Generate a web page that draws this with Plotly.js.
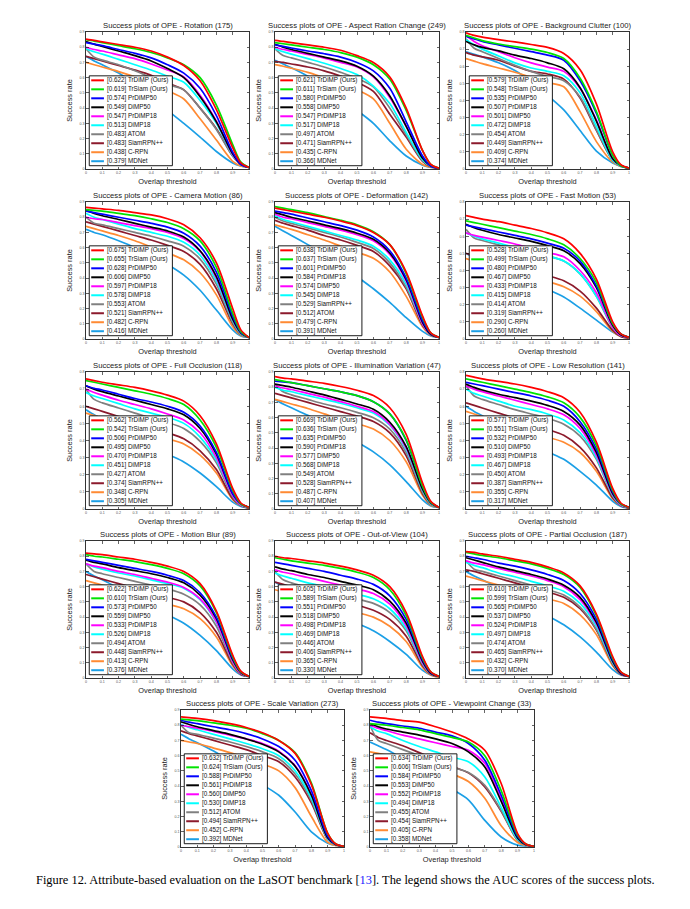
<!DOCTYPE html>
<html>
<head>
<meta charset="utf-8">
<script src="https://cdn.plot.ly/plotly-3.0.1.min.js"></script>
<style>
  html, body { margin: 0; padding: 0; background: #fff; }
  #chart { width: 690px; height: 909px; }
</style>
</head>
<body>
<div id="chart"></div>
<script>
var thr = [0, 0.05, 0.1, 0.2, 0.3, 0.4, 0.5, 0.6, 0.7, 0.8, 0.9, 0.95, 1];

// legend names, in ranked order (colour follows the rank)
var ordA = ['TrDiMP (Ours)', 'TrSiam (Ours)', 'PrDiMP50', 'DiMP50', 'PrDiMP18', 'DiMP18', 'ATOM', 'SiamRPN++', 'C-RPN', 'MDNet'];
var ordB = ['TrDiMP (Ours)', 'TrSiam (Ours)', 'PrDiMP50', 'PrDiMP18', 'DiMP50', 'DiMP18', 'ATOM', 'SiamRPN++', 'C-RPN', 'MDNet'];
var ordDef = ['TrDiMP (Ours)', 'TrSiam (Ours)', 'PrDiMP50', 'PrDiMP18', 'DiMP50', 'DiMP18', 'SiamRPN++', 'ATOM', 'C-RPN', 'MDNet'];

// Rotation (175)
var rotAuc = [0.622, 0.619, 0.574, 0.549, 0.547, 0.513, 0.483, 0.483, 0.438, 0.379];
var rotY = [
  [.853,.845,.835,.818,.80,.775,.735,.68,.58,.39,.14,.04,.01],
  [.849,.84,.83,.81,.79,.765,.73,.685,.60,.42,.16,.045,.01],
  [.83,.82,.81,.785,.76,.73,.685,.63,.53,.35,.11,.03,.01],
  [.838,.82,.805,.775,.745,.71,.66,.60,.475,.31,.10,.03,.01],
  [.80,.785,.775,.75,.725,.69,.65,.605,.485,.315,.095,.03,.01],
  [.79,.77,.755,.72,.685,.65,.61,.57,.45,.30,.09,.03,.01],
  [.79,.735,.715,.685,.645,.60,.555,.52,.40,.26,.085,.03,.01],
  [.74,.725,.71,.68,.65,.615,.565,.52,.40,.265,.085,.03,.01],
  [.70,.685,.67,.64,.605,.565,.515,.46,.33,.19,.05,.02,.01],
  [.74,.71,.685,.63,.56,.475,.385,.30,.21,.115,.04,.02,.01]
];

// Aspect Ration Change (249)
var aspAuc = [0.621, 0.611, 0.580, 0.558, 0.547, 0.517, 0.497, 0.471, 0.435, 0.366];
var aspY = [
  [.845,.838,.83,.815,.80,.78,.745,.70,.605,.40,.12,.03,.005],
  [.83,.823,.815,.80,.785,.765,.735,.685,.59,.385,.12,.03,.005],
  [.815,.805,.795,.775,.757,.735,.70,.645,.53,.31,.085,.02,.005],
  [.82,.80,.785,.76,.735,.71,.675,.61,.48,.28,.07,.02,.005],
  [.80,.785,.775,.752,.728,.70,.67,.605,.47,.28,.075,.02,.005],
  [.79,.77,.755,.725,.695,.66,.62,.545,.43,.24,.06,.018,.005],
  [.79,.745,.73,.70,.67,.635,.595,.54,.40,.225,.055,.018,.005],
  [.708,.70,.69,.67,.645,.61,.57,.51,.36,.21,.05,.015,.005],
  [.686,.675,.662,.635,.60,.565,.52,.46,.30,.13,.03,.012,.005],
  [.715,.69,.665,.61,.545,.465,.385,.30,.185,.085,.025,.01,.005]
];

// Background Clutter (100)
var bgcAuc = [0.579, 0.548, 0.535, 0.507, 0.501, 0.472, 0.454, 0.449, 0.409, 0.374];
var bgcY = [
  [.795,.78,.77,.755,.742,.727,.71,.675,.58,.38,.10,.025,.005],
  [.78,.765,.75,.73,.715,.70,.68,.645,.53,.335,.08,.02,.005],
  [.775,.76,.745,.725,.705,.685,.665,.635,.515,.325,.08,.02,.005],
  [.745,.725,.71,.69,.665,.645,.62,.585,.475,.28,.06,.02,.005],
  [.78,.745,.72,.685,.65,.62,.595,.57,.47,.285,.06,.02,.005],
  [.755,.725,.70,.66,.62,.59,.57,.545,.445,.25,.05,.018,.005],
  [.76,.705,.685,.645,.605,.57,.54,.515,.42,.23,.05,.018,.005],
  [.68,.665,.655,.635,.60,.57,.555,.525,.415,.225,.05,.018,.005],
  [.645,.63,.615,.59,.565,.535,.505,.48,.335,.16,.04,.015,.005],
  [.685,.67,.655,.62,.575,.51,.43,.345,.225,.105,.035,.015,.005]
];

// Camera Motion (86)
var camAuc = [0.675, 0.655, 0.628, 0.606, 0.597, 0.578, 0.553, 0.521, 0.482, 0.416];
var camY = [
  [.865,.86,.855,.845,.83,.815,.79,.75,.665,.50,.20,.06,.01],
  [.85,.845,.84,.825,.81,.79,.765,.725,.645,.47,.17,.05,.01],
  [.84,.83,.82,.80,.78,.76,.735,.695,.61,.44,.15,.045,.01],
  [.845,.825,.81,.785,.76,.735,.71,.67,.58,.41,.13,.04,.01],
  [.80,.79,.785,.765,.745,.725,.70,.66,.575,.40,.13,.04,.01],
  [.825,.80,.785,.755,.725,.70,.675,.635,.55,.38,.12,.035,.01],
  [.80,.76,.75,.725,.70,.675,.645,.61,.525,.36,.11,.03,.01],
  [.77,.755,.74,.71,.68,.65,.615,.575,.49,.33,.10,.03,.01],
  [.74,.725,.71,.68,.645,.605,.565,.52,.435,.29,.08,.025,.01],
  [.72,.70,.685,.645,.60,.545,.49,.42,.32,.19,.06,.02,.01]
];

// Deformation (142)
var defAuc = [0.638, 0.637, 0.601, 0.584, 0.574, 0.545, 0.529, 0.512, 0.479, 0.391];
var defY = [
  [.86,.85,.84,.82,.80,.775,.745,.70,.62,.44,.15,.04,.01],
  [.87,.86,.85,.83,.805,.78,.75,.705,.62,.43,.14,.04,.01],
  [.84,.83,.82,.795,.77,.745,.715,.67,.58,.40,.12,.035,.01],
  [.83,.815,.80,.775,.75,.725,.695,.655,.565,.39,.11,.03,.01],
  [.82,.80,.79,.765,.74,.715,.685,.645,.555,.38,.10,.03,.01],
  [.81,.785,.77,.74,.71,.68,.65,.61,.52,.36,.10,.03,.01],
  [.80,.775,.76,.73,.70,.67,.635,.595,.50,.34,.10,.03,.01],
  [.78,.76,.745,.715,.68,.65,.615,.575,.48,.33,.09,.03,.01],
  [.75,.735,.72,.685,.65,.61,.57,.53,.44,.28,.08,.025,.01],
  [.74,.71,.68,.62,.56,.49,.41,.33,.24,.14,.05,.02,.01]
];

// Fast Motion (53)
var fmAuc = [0.528, 0.499, 0.480, 0.467, 0.433, 0.415, 0.414, 0.319, 0.290, 0.260];
var fmY = [
  [.72,.71,.70,.685,.665,.645,.62,.585,.50,.35,.10,.03,.01],
  [.69,.68,.67,.65,.63,.61,.585,.55,.47,.33,.09,.03,.01],
  [.665,.655,.645,.625,.605,.585,.56,.53,.455,.31,.09,.03,.01],
  [.67,.65,.635,.61,.59,.57,.545,.515,.44,.30,.08,.025,.01],
  [.62,.605,.595,.575,.555,.53,.505,.48,.40,.27,.07,.02,.01],
  [.62,.60,.585,.56,.535,.51,.485,.455,.38,.25,.07,.02,.01],
  [.64,.59,.575,.55,.53,.51,.485,.455,.38,.25,.065,.02,.01],
  [.50,.485,.47,.445,.42,.395,.37,.34,.28,.18,.05,.015,.005],
  [.47,.455,.44,.41,.385,.36,.335,.305,.25,.16,.045,.015,.005],
  [.50,.475,.455,.41,.37,.33,.29,.245,.18,.11,.04,.015,.005]
];

// Full Occlusion (118)
var foAuc = [0.562, 0.542, 0.506, 0.495, 0.470, 0.451, 0.427, 0.374, 0.348, 0.305];
var foY = [
  [.76,.75,.74,.725,.71,.69,.665,.63,.545,.38,.12,.035,.01],
  [.75,.74,.73,.71,.69,.67,.645,.61,.52,.36,.11,.03,.01],
  [.72,.705,.695,.67,.645,.625,.60,.565,.485,.33,.09,.03,.01],
  [.72,.70,.685,.66,.635,.61,.585,.55,.47,.32,.09,.03,.01],
  [.70,.68,.665,.635,.61,.585,.555,.52,.445,.30,.08,.025,.01],
  [.68,.66,.645,.615,.585,.56,.535,.50,.42,.285,.08,.025,.01],
  [.70,.64,.62,.59,.56,.53,.505,.47,.395,.27,.07,.02,.01],
  [.60,.585,.57,.54,.51,.475,.445,.41,.34,.23,.06,.02,.005],
  [.56,.545,.53,.50,.47,.44,.41,.38,.315,.21,.055,.02,.005],
  [.58,.55,.525,.47,.42,.37,.32,.275,.21,.13,.04,.015,.005]
];

// Illumination Variation (47)
var ivAuc = [0.669, 0.636, 0.635, 0.590, 0.577, 0.568, 0.549, 0.528, 0.487, 0.407];
var ivY = [
  [.87,.86,.855,.84,.825,.805,.78,.745,.665,.49,.17,.05,.01],
  [.85,.84,.83,.81,.79,.77,.745,.705,.625,.455,.15,.045,.01],
  [.84,.835,.83,.81,.79,.77,.745,.705,.625,.45,.15,.045,.01],
  [.82,.81,.80,.775,.75,.72,.69,.655,.57,.41,.13,.04,.01],
  [.81,.795,.785,.76,.735,.705,.675,.64,.555,.40,.13,.04,.01],
  [.80,.78,.77,.745,.72,.695,.665,.63,.55,.39,.12,.035,.01],
  [.82,.77,.75,.72,.69,.665,.635,.60,.525,.37,.11,.03,.01],
  [.76,.745,.73,.70,.67,.64,.61,.575,.50,.35,.10,.03,.01],
  [.72,.705,.69,.66,.625,.59,.56,.525,.45,.31,.09,.025,.01],
  [.72,.69,.665,.615,.56,.50,.44,.375,.29,.18,.06,.02,.01]
];

// Low Resolution (141)
var lrAuc = [0.577, 0.551, 0.532, 0.510, 0.493, 0.467, 0.450, 0.387, 0.355, 0.317];
var lrY = [
  [.78,.77,.76,.745,.73,.71,.685,.65,.565,.39,.12,.035,.01],
  [.76,.75,.74,.72,.70,.68,.655,.62,.535,.37,.11,.03,.01],
  [.74,.73,.72,.70,.68,.66,.635,.60,.51,.35,.10,.03,.01],
  [.73,.71,.695,.67,.65,.63,.605,.57,.49,.33,.09,.03,.01],
  [.72,.70,.685,.66,.635,.61,.585,.55,.47,.315,.085,.025,.01],
  [.70,.675,.66,.63,.60,.58,.555,.52,.445,.30,.08,.025,.01],
  [.72,.66,.64,.61,.58,.555,.53,.495,.425,.29,.075,.02,.01],
  [.62,.605,.59,.56,.53,.495,.465,.43,.36,.24,.065,.02,.005],
  [.57,.555,.54,.51,.48,.45,.42,.39,.33,.22,.06,.02,.005],
  [.60,.57,.545,.49,.44,.385,.335,.29,.22,.14,.045,.015,.005]
];

// Motion Blur (89)
var mbAuc = [0.622, 0.610, 0.573, 0.559, 0.533, 0.526, 0.494, 0.448, 0.413, 0.376];
var mbY = [
  [.82,.815,.81,.795,.78,.76,.735,.70,.62,.44,.15,.045,.01],
  [.81,.80,.795,.78,.765,.745,.72,.685,.605,.43,.14,.04,.01],
  [.78,.77,.76,.74,.72,.70,.675,.64,.56,.40,.13,.04,.01],
  [.775,.76,.75,.725,.705,.685,.66,.625,.545,.39,.12,.035,.01],
  [.75,.735,.725,.70,.68,.655,.63,.595,.52,.37,.11,.03,.01],
  [.75,.73,.715,.69,.67,.645,.62,.59,.515,.365,.11,.03,.01],
  [.75,.70,.685,.66,.635,.61,.585,.55,.48,.34,.10,.03,.01],
  [.68,.665,.65,.62,.59,.56,.53,.50,.43,.30,.09,.025,.01],
  [.64,.625,.61,.58,.55,.515,.485,.455,.39,.27,.08,.025,.01],
  [.70,.67,.645,.59,.535,.475,.415,.36,.28,.18,.06,.02,.01]
];

// Out-of-View (104)
var ovAuc = [0.605, 0.589, 0.551, 0.518, 0.498, 0.469, 0.446, 0.406, 0.365, 0.330];
var ovY = [
  [.80,.79,.785,.77,.755,.735,.71,.675,.60,.43,.14,.04,.01],
  [.79,.78,.77,.755,.74,.72,.695,.66,.58,.41,.13,.04,.01],
  [.76,.75,.74,.72,.70,.675,.65,.615,.54,.385,.12,.035,.01],
  [.73,.715,.705,.68,.66,.635,.61,.58,.505,.36,.11,.03,.01],
  [.71,.695,.685,.66,.635,.61,.585,.555,.485,.345,.10,.03,.01],
  [.69,.67,.655,.625,.60,.575,.55,.52,.455,.325,.095,.03,.01],
  [.70,.645,.625,.595,.57,.545,.52,.49,.43,.31,.09,.025,.01],
  [.63,.615,.60,.57,.54,.51,.48,.445,.385,.275,.08,.025,.01],
  [.58,.565,.55,.52,.49,.46,.43,.40,.34,.24,.07,.02,.005],
  [.63,.60,.575,.52,.47,.415,.36,.31,.24,.155,.05,.02,.005]
];

// Partial Occlusion (187)
var poAuc = [0.610, 0.599, 0.565, 0.537, 0.524, 0.497, 0.474, 0.465, 0.432, 0.370];
var poY = [
  [.83,.825,.815,.80,.78,.76,.73,.69,.605,.42,.14,.04,.01],
  [.825,.815,.805,.79,.77,.75,.72,.68,.595,.41,.13,.04,.01],
  [.80,.79,.78,.755,.735,.71,.68,.64,.555,.385,.12,.035,.01],
  [.79,.775,.76,.73,.705,.68,.65,.61,.53,.365,.11,.03,.01],
  [.77,.755,.745,.72,.695,.67,.64,.60,.515,.355,.11,.03,.01],
  [.76,.74,.725,.69,.665,.635,.605,.57,.49,.34,.10,.03,.01],
  [.77,.715,.70,.67,.64,.61,.58,.545,.465,.32,.095,.03,.01],
  [.71,.70,.685,.655,.625,.595,.565,.53,.455,.315,.09,.025,.01],
  [.67,.655,.64,.61,.58,.55,.52,.49,.415,.285,.08,.025,.01],
  [.70,.67,.645,.59,.53,.47,.41,.35,.27,.17,.055,.02,.01]
];

// Scale Variation (273)
var svAuc = [0.632, 0.624, 0.588, 0.561, 0.560, 0.530, 0.512, 0.494, 0.452, 0.392];
var svY = [
  [.855,.85,.845,.83,.81,.785,.75,.70,.615,.41,.09,.02,.005],
  [.84,.835,.83,.815,.80,.78,.745,.70,.62,.42,.09,.02,.005],
  [.833,.82,.81,.79,.77,.745,.71,.66,.57,.37,.07,.018,.005],
  [.822,.805,.79,.765,.74,.71,.675,.625,.53,.34,.06,.015,.005],
  [.80,.79,.78,.76,.735,.71,.68,.63,.535,.345,.06,.015,.005],
  [.807,.785,.77,.74,.71,.68,.645,.60,.50,.32,.055,.015,.005],
  [.80,.75,.74,.715,.69,.66,.625,.58,.48,.305,.05,.015,.005],
  [.763,.745,.73,.70,.67,.64,.60,.56,.46,.29,.05,.015,.005],
  [.70,.69,.68,.65,.62,.585,.545,.50,.39,.20,.03,.01,.005],
  [.74,.71,.685,.63,.565,.49,.41,.34,.23,.10,.025,.01,.005]
];

// Viewpoint Change (33)
var vcAuc = [0.634, 0.606, 0.584, 0.553, 0.552, 0.494, 0.455, 0.454, 0.405, 0.358];
var vcY = [
  [.855,.85,.845,.83,.82,.79,.755,.71,.636,.417,.088,.02,.005],
  [.81,.805,.80,.785,.77,.745,.72,.69,.60,.37,.08,.02,.005],
  [.833,.82,.81,.795,.78,.755,.73,.68,.57,.34,.07,.018,.005],
  [.81,.79,.775,.755,.735,.71,.68,.625,.526,.30,.06,.015,.005],
  [.80,.78,.765,.735,.71,.685,.66,.636,.55,.32,.06,.015,.005],
  [.79,.76,.745,.70,.66,.625,.59,.56,.46,.26,.05,.015,.005],
  [.80,.70,.68,.64,.60,.56,.525,.49,.405,.24,.045,.015,.005],
  [.75,.72,.70,.665,.62,.575,.53,.487,.395,.235,.045,.015,.005],
  [.625,.615,.605,.58,.55,.515,.48,.43,.32,.14,.03,.01,.005],
  [.69,.665,.64,.58,.515,.445,.38,.31,.175,.066,.012,.006,.003]
];

var colors = ['#ff0000', '#00e400', '#0000ff', '#000000', '#ff00ff', '#00ffff', '#808080', '#8c1a2c', '#ff8a33', '#1b9fe6'];

var panels = [
  {title: 'Rotation (175)', names: ordA, auc: rotAuc, ys: rotY, top: 0.9},
  {title: 'Aspect Ration Change (249)', names: ordA, auc: aspAuc, ys: aspY, top: 0.9},
  {title: 'Background Clutter (100)', names: ordB, auc: bgcAuc, ys: bgcY, top: 0.8},
  {title: 'Camera Motion (86)', names: ordA, auc: camAuc, ys: camY, top: 0.9},
  {title: 'Deformation (142)', names: ordDef, auc: defAuc, ys: defY, top: 0.9},
  {title: 'Fast Motion (53)', names: ordA, auc: fmAuc, ys: fmY, top: 0.8},
  {title: 'Full Occlusion (118)', names: ordA, auc: foAuc, ys: foY, top: 0.8},
  {title: 'Illumination Variation (47)', names: ordB, auc: ivAuc, ys: ivY, top: 0.9},
  {title: 'Low Resolution (141)', names: ordA, auc: lrAuc, ys: lrY, top: 0.8},
  {title: 'Motion Blur (89)', names: ordA, auc: mbAuc, ys: mbY, top: 0.9},
  {title: 'Out-of-View (104)', names: ordA, auc: ovAuc, ys: ovY, top: 0.9},
  {title: 'Partial Occlusion (187)', names: ordA, auc: poAuc, ys: poY, top: 0.9},
  {title: 'Scale Variation (273)', names: ordB, auc: svAuc, ys: svY, top: 0.9},
  {title: 'Viewpoint Change (33)', names: ordA, auc: vcAuc, ys: vcY, top: 0.9}
];

// page geometry in pixels
var W = 690, H = 909, PH = 137;
var colX = [[86, 249], [275, 439], [466, 629]];
var rowTop = [32, 202, 372, 541];
var lastX = [[181, 344], [370, 534]], lastTop = 710;

var FONT = 'Liberation Sans, Arial, sans-serif';
var traces = [];
var shapes = [];
var annotations = [];
var layout = {
  width: W, height: H,
  margin: {l: 0, r: 0, t: 0, b: 0},
  paper_bgcolor: '#fff', plot_bgcolor: '#fff',
  showlegend: false,
  font: {family: FONT, color: '#000'}
};

panels.forEach(function (p, i) {
  var n = i + 1;
  var xa = n === 1 ? 'x' : 'x' + n;
  var ya = n === 1 ? 'y' : 'y' + n;
  var lx, top;
  if (i < 12) { lx = colX[i % 3]; top = rowTop[Math.floor(i / 3)]; }
  else { lx = lastX[i - 12]; top = lastTop; }

  var axCommon = {
    showline: true, linecolor: '#000', linewidth: 0.8, mirror: 'ticks',
    ticks: 'inside', ticklen: 2.5, tickwidth: 0.6, tickcolor: '#000',
    showgrid: false, zeroline: false, dtick: 0.1, tick0: 0,
    tickfont: {size: 3.6, color: '#555', family: FONT},
    fixedrange: true
  };
  layout['xaxis' + (n === 1 ? '' : n)] = Object.assign({}, axCommon, {
    domain: [lx[0] / W, lx[1] / W], anchor: ya, range: [0, 1],
    title: {text: 'Overlap threshold', font: {size: 7.4, family: FONT, color: '#222'}, standoff: 4}
  });
  layout['yaxis' + (n === 1 ? '' : n)] = Object.assign({}, axCommon, {
    domain: [1 - (top + PH) / H, 1 - top / H], anchor: xa, range: [0, p.top],
    title: {text: 'Success rate', font: {size: 7.4, family: FONT, color: '#222'}, standoff: 5}
  });

  // curves, worst first so that the best one sits on top
  for (var k = 9; k >= 0; k--) {
    traces.push({
      x: thr, y: p.ys[k], xaxis: xa, yaxis: ya,
      type: 'scatter', mode: 'lines', name: p.names[k],
      line: {color: colors[k], width: 1.7, shape: 'spline', smoothing: 0.8},
      hoverinfo: 'skip'
    });
  }

  annotations.push({
    xref: xa + ' domain', yref: ya + ' domain', x: 0.5, y: 1,
    xanchor: 'center', yanchor: 'bottom', yshift: 0, showarrow: false,
    text: 'Success plots of OPE - ' + p.title,
    font: {size: 7.7, family: FONT, color: '#222'}
  });

  // legend box drawn in the lower left of each panel
  var bx0 = 0.02, bx1 = 0.53, by0 = 0.024, by1 = 0.68;
  shapes.push({
    type: 'rect', xref: xa + ' domain', yref: ya + ' domain',
    x0: bx0, x1: bx1, y0: by0, y1: by1,
    fillcolor: '#fff', line: {color: '#000', width: 0.9}, layer: 'above'
  });
  var step = (by1 - by0) / 10;
  for (var j = 0; j < 10; j++) {
    var yy = by1 - step * (j + 0.5);
    shapes.push({
      type: 'line', xref: xa + ' domain', yref: ya + ' domain',
      x0: bx0 + 0.012, x1: bx0 + 0.09, y0: yy, y1: yy,
      line: {color: colors[j], width: 2}, layer: 'above'
    });
    annotations.push({
      xref: xa + ' domain', yref: ya + ' domain', x: bx0 + 0.094, y: yy,
      xanchor: 'left', yanchor: 'middle', showarrow: false,
      text: '[' + p.auc[j].toFixed(3) + '] ' + p.names[j],
      font: {size: 6.3, family: FONT, color: '#111'}
    });
  }
});

annotations.push({
  xref: 'paper', yref: 'paper', x: 0.5, y: 1 - 880 / H,
  xanchor: 'center', yanchor: 'middle', showarrow: false,
  text: 'Figure 12. Attribute-based evaluation on the LaSOT benchmark [<span style="color:#1a1aff">13</span>]. The legend shows the AUC scores of the success plots.',
  font: {size: 12.4, family: 'Liberation Serif, Times New Roman, serif', color: '#000'}
});

layout.shapes = shapes;
layout.annotations = annotations;

Plotly.newPlot('chart', traces, layout, {staticPlot: true, displayModeBar: false});
</script>
</body>
</html>
